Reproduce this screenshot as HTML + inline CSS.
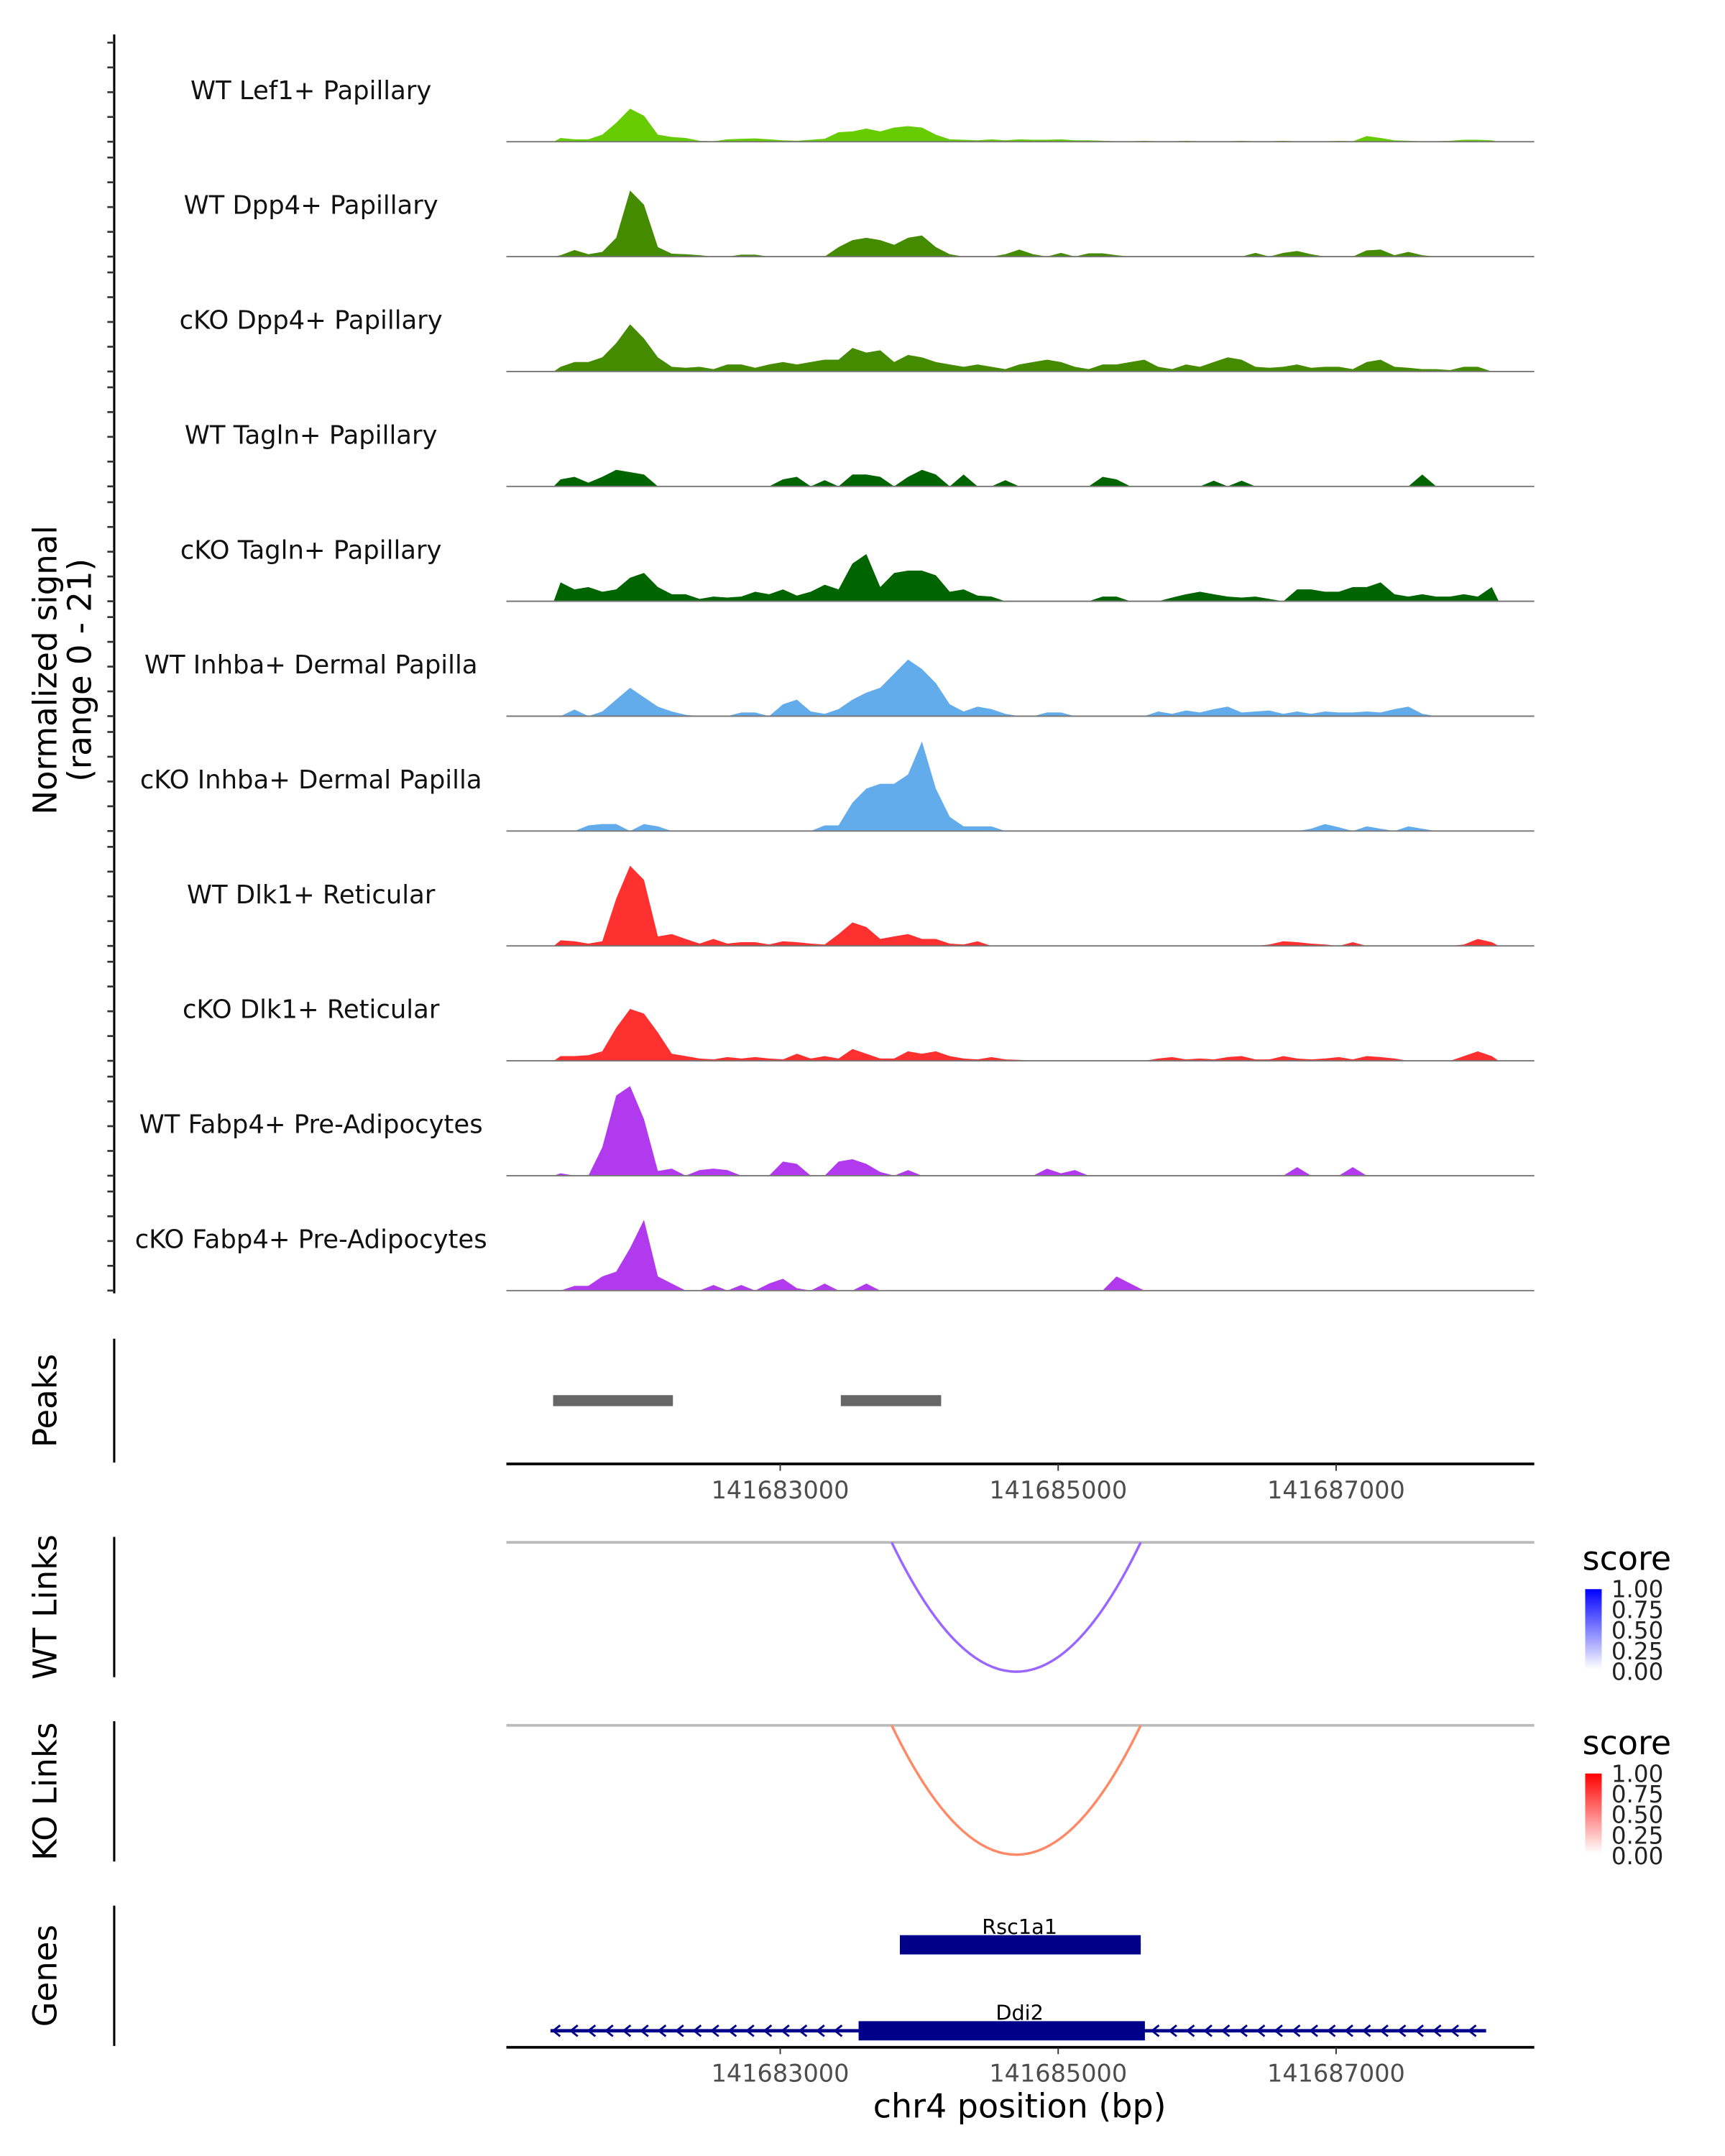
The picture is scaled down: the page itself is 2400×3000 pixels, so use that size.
<!DOCTYPE html>
<html><head><meta charset="utf-8"><style>
html,body{margin:0;padding:0;background:#fff}
svg{display:block}
text{font-family:"DejaVu Sans","Liberation Sans",sans-serif}
</style></head><body>
<svg id="chart" width="2400" height="3000" viewBox="0 0 1253.6 1567" xmlns="http://www.w3.org/2000/svg">
<rect width="1260" height="1570" fill="#fff"/>
<g id="tracks"></g>
<line x1="83" y1="25" x2="83" y2="940" stroke="#000" stroke-width="1.6"/>
<g id="yticks"></g>
<text transform="translate(41,487) rotate(-90)" text-anchor="middle" font-size="23.5">Normalized signal</text>
<text transform="translate(66,487) rotate(-90)" text-anchor="middle" font-size="23.5">(range 0 - 21)</text>

<line x1="83" y1="973" x2="83" y2="1063" stroke="#000" stroke-width="1.6"/>
<text transform="translate(41,1018) rotate(-90)" text-anchor="middle" font-size="23.5">Peaks</text>
<g id="peaks"></g>
<g id="xaxis1"></g>

<line x1="83" y1="1117" x2="83" y2="1219" stroke="#000" stroke-width="1.6"/>
<text transform="translate(41,1168) rotate(-90)" text-anchor="middle" font-size="23.5">WT Links</text>
<line x1="83" y1="1251" x2="83" y2="1353" stroke="#000" stroke-width="1.6"/>
<text transform="translate(41,1302) rotate(-90)" text-anchor="middle" font-size="23.5">KO Links</text>
<g id="links"></g>

<defs>
<linearGradient id="gb" x1="0" y1="1" x2="0" y2="0"><stop offset="0" stop-color="#fff"/><stop offset="1" stop-color="#0000ff"/></linearGradient>
<linearGradient id="gr" x1="0" y1="1" x2="0" y2="0"><stop offset="0" stop-color="#fff"/><stop offset="1" stop-color="#ff0000"/></linearGradient>
</defs>
<g>
<text x="1150" y="1141" font-size="24">score</text>
<rect x="1152" y="1155" width="12" height="58" fill="url(#gb)"/>
<g font-size="17" fill="#222"><text x="1171" y="1161">1.00</text><text x="1171" y="1176">0.75</text><text x="1171" y="1191">0.50</text><text x="1171" y="1206">0.25</text><text x="1171" y="1221">0.00</text></g>
</g>
<g>
<text x="1150" y="1275" font-size="24">score</text>
<rect x="1152" y="1289" width="12" height="58" fill="url(#gr)"/>
<g font-size="17" fill="#222"><text x="1171" y="1295">1.00</text><text x="1171" y="1310">0.75</text><text x="1171" y="1325">0.50</text><text x="1171" y="1340">0.25</text><text x="1171" y="1355">0.00</text></g>
</g>

<line x1="83" y1="1385" x2="83" y2="1487" stroke="#000" stroke-width="1.6"/>
<text transform="translate(41,1436) rotate(-90)" text-anchor="middle" font-size="23.5">Genes</text>
<g id="genes"></g>
<g id="xaxis2"></g>
<text x="741" y="1539" text-anchor="middle" font-size="24">chr4 position (bp)</text>
</svg>
<script>
const binStart = 141681370;
const binSize = 100;
const trackNames = ["WT Lef1+ Papillary","WT Dpp4+ Papillary","cKO Dpp4+ Papillary","WT Tagln+ Papillary","cKO Tagln+ Papillary","WT Inhba+ Dermal Papilla","cKO Inhba+ Dermal Papilla","WT Dlk1+ Reticular","cKO Dlk1+ Reticular","WT Fabp4+ Pre-Adipocytes","cKO Fabp4+ Pre-Adipocytes"];
const trackColors = ["#66cc00","#458b00","#458b00","#006400","#006400","#63acec","#63acec","#ff3030","#ff3030","#b23aee","#b23aee"];
const sLef1WT = [0.8,0.5,0.5,1.5,4,7,5.5,1.5,1,0.8,0.2,0.1,0.5,0.6,0.7,0.5,0.3,0.2,0.4,0.6,2,2.2,2.8,2.2,3,3.3,3,1.5,0.5,0.4,0.3,0.5,0.3,0.5,0.4,0.4,0.5,0.3,0.3,0.2,0.1,0.1,0.2,0.1,0.1,0.2,0.1,0.1,0.1,0.2,0.1,0.1,0.2,0.1,0.1,0.1,0.2,0.1,1.2,0.8,0.3,0.2,0.1,0.1,0.2,0.4,0.4,0.3];
const sDpp4WT = [0.3,1.4,0.5,1,4,14,11,2,0.6,0.5,0.3,0,0,0.4,0.4,0,0,0,0,0,2,3.5,4,3.5,2.5,4,4.5,2,0.5,0,0,0,0.5,1.5,0.5,0,0.8,0,0.7,0.7,0.3,0,0,0,0,0,0,0,0,0,0.8,0,0.8,1.2,0.5,0,0,0,1.3,1.5,0.3,1,0.3,0,0,0,0,0];
const sDpp4KO = [1,2,2,3,6,10,7,3,1,0.8,1,0.5,1.5,1.5,0.8,1.5,2,1.5,2,2.5,2.5,5,4,4.5,2,3.5,3,2,1.5,1,1.5,1,0.5,1.5,2,2.5,2,1,0.5,1.5,1.5,2,2.5,1,0.5,1.5,1,2,3,2.5,1,0.8,1,1.5,0.8,1,1,0.5,2,2.5,1,0.8,0.5,0.5,0.3,1,1,0];
const sTaglnWT = [1.5,2,0.8,2,3.5,3,2.5,0,0,0,0,0,0,0,0,0,1.5,2,0,1.3,0,2.5,2.5,2,0,2,3.5,2.5,0,2.5,0,0,1.3,0,0,0,0,0,0,2,1.5,0,0,0,0,0,0,1.2,0,1.2,0,0,0,0,0,0,0,0,0,0,0,0,2.5,0,0,0,0,0];
const sTaglnKO = [4,2.5,3,2,2.5,5,6,3,1.5,1.5,0.5,1,0.8,1,2,1.5,2.5,1.2,2,3.5,2.5,8,10,3,6,6.5,6.5,5.5,2,2.5,1.2,1,0,0,0,0,0,0,0,1,1,0,0,0,0.8,1.5,2,1.5,1,0.8,1,0.5,0,2.5,2.5,2,2,3,3,4,1.5,1,1.5,1,1,1.5,1,3];
const sInhbaWT = [0,1.4,0,1,3.5,6,4,2,1,0.3,0,0,0,0.8,0.8,0,2.5,3.5,1,0.5,1.5,3.5,5,6,9,12,10,7,2.5,1,2,1.5,0.5,0,0,0.8,0.8,0,0,0,0,0,0,1,0.5,1.2,0.8,1.5,2,0.8,1,1.2,0.5,1,0.5,1,0.8,0.8,1,0.8,1.5,2,0.5,0,0,0,0,0];
const sInhbaKO = [0,0,1.2,1.5,1.5,0,1.5,1,0,0,0,0,0,0,0,0,0,0,0,1.2,1.2,6,9,10,10,12,19,9,3,1,1,1,0,0,0,0,0,0,0,0,0,0,0,0,0,0,0,0,0,0,0,0,0,0,0.5,1.5,0.8,0,1,0.5,0,1,0.5,0,0,0,0,0];
const sDlk1WT = [1.2,1,0.5,1,10,17,14,2,2.5,1.5,0.5,1.5,0.5,0.8,0.8,0.3,1,0.8,0.5,0.3,2.5,5,4,1.5,2,2.5,1.5,1.5,0.5,0.3,1,0,0,0,0,0,0,0,0,0,0,0,0,0,0,0,0,0,0,0,0,0.3,1,0.8,0.5,0.3,0,0.8,0,0,0,0,0,0,0,0.3,1.5,0.8];
const sDlk1KO = [1,1,1.2,2,7,11,10,6,1.5,1,0.5,0.3,0.8,0.5,0.8,0.5,0.3,1.5,0.5,1,0.5,2.5,1.5,0.5,0.5,2,1.5,2,1,0.5,0.3,0.8,0.3,0.2,0,0,0,0,0,0,0,0,0,0.5,0.8,0.3,0.5,0.3,0.8,1,0.3,0.3,1,0.5,0.3,0.5,0.8,0.3,1,0.8,0.5,0,0,0,0,1,2,1];
const sFabp4WT = [0.5,0,0,6,17,19,12,1,1.5,0,1.2,1.5,1.2,0,0,0,3,2.5,0,0,3,3.5,2.5,0.8,0,1.2,0,0,0,0,0,0,0,0,0,1.5,0.5,1.2,0,0,0,0,0,0,0,0,0,0,0,0,0,0,0,1.8,0,0,0,1.8,0,0,0,0,0,0,0,0,0,0];
const sFabp4KO = [0,1,1,3,4,9,15,3,1.5,0,0,1.2,0,1.2,0,1.5,2.5,0.5,0,1.5,0,0,1.5,0,0,0,0,0,0,0,0,0,0,0,0,0,0,0,0,0,3,1.5,0,0,0,0,0,0,0,0,0,0,0,0,0,0,0,0,0,0,0,0,0,0,0,0,0];
const seriesList = [sLef1WT,sDpp4WT,sDpp4KO,sTaglnWT,sTaglnKO,sInhbaWT,sInhbaKO,sDlk1WT,sDlk1KO,sFabp4WT,sFabp4KO];
const peakStarts = [141681366,141683436];
const peakEnds = [141682228,141684158];
const xTicks = [141683000,141685000,141687000];
const linkStart = [141683802];
const linkEnd = [141685594];
const wtLinkScore = [0.55];
const koLinkScore = [0.5];
const geneNames = ["Rsc1a1","Ddi2"];
const geneStarts = [141683861,141681347];
const geneEnds = [141685594,141688079];
const exonStarts = [141683861,141683564];
const exonEnds = [141685594,141685624];

const NS='http://www.w3.org/2000/svg';
function X(p){return 567+(p-141683000)*202/2000;}
const yMax=21, trackH=72;
function mk(tag,attrs,parent){const e=document.createElementNS(NS,tag);for(const k in attrs)e.setAttribute(k,attrs[k]);parent.appendChild(e);return e;}
const tracks=document.getElementById('tracks');
const yt=document.getElementById('yticks');
seriesList.forEach((s,i)=>{
  const base=103+83.5*i;
  const g=mk('g',{},tracks);
  
  
  const lab=mk('text',{x:226,y:base-31,'text-anchor':'middle','font-size':'18.5',fill:'#111'},g);
  
  
  lab.textContent=trackNames[i];
  let pts=[[X(binStart),base]];
  s.forEach((v,k)=>{const x=X(binStart+binSize*(k+0.5));pts.push([x,base-v/yMax*trackH]);});
  pts.push([X(binStart+binSize*s.length),base]);
  const area=mk('polygon',{points:pts.map(p=>p[0].toFixed(1)+','+p[1].toFixed(1)).join(' '),fill:trackColors[i]},g);
  
  
  const bl=mk('line',{x1:368,x2:1115,y1:base,y2:base,stroke:'#777','stroke-width':1},g);
  
  
  for(let t=0;t<5;t++){const y=base-18*t;const tk=mk('line',{x1:78,x2:83,y1:y,y2:y,stroke:'#333','stroke-width':1.4},yt);
    
    }
});
const pk=document.getElementById('peaks');
peakStarts.forEach((p,i)=>{const r=mk('rect',{x:X(p),y:1014,width:X(peakEnds[i])-X(p),height:8,fill:'#666'},pk);
  
  });
function axis(id,y){const g=document.getElementById(id);
  mk('line',{x1:368,x2:1115,y1:y,y2:y,stroke:'#000','stroke-width':2},g);
  xTicks.forEach(t=>{mk('line',{x1:X(t),x2:X(t),y1:y,y2:y+5,stroke:'#333','stroke-width':1},g);
    const tx=mk('text',{x:X(t),y:y+25,'text-anchor':'middle','font-size':'17.5',fill:'#4d4d4d'},g);
    
    
    tx.textContent=t;});}
axis('xaxis1',1064);axis('xaxis2',1488);
const lk=document.getElementById('links');
function links(top,score,col){
  mk('line',{x1:368,x2:1115,y1:top,y2:top,stroke:'#bbb','stroke-width':2},lk);
  linkStart.forEach((s,i)=>{const x0=X(s),x1=X(linkEnd[i]);const depth=94;
    const p=mk('path',{d:`M${x0},${top} Q${(x0+x1)/2},${top+2*depth} ${x1},${top}`,fill:'none',stroke:col,'stroke-width':1.8},lk);
    
    });}
links(1121,wtLinkScore,'#9966ff');links(1254,koLinkScore,'#ff8866');
const gn=document.getElementById('genes');
geneNames.forEach((n,i)=>{const yc=i===0?1413.5:1476;
  const g=mk('g',{},gn);
  
  
  mk('line',{x1:X(geneStarts[i]),x2:X(geneEnds[i]),y1:yc,y2:yc,stroke:'#00008b','stroke-width':2.5},g);
  mk('rect',{x:X(exonStarts[i]),y:yc-7,width:X(exonEnds[i])-X(exonStarts[i]),height:14,fill:'#00008b'},g);
  for(let x=X(geneStarts[i])+2;x<X(geneEnds[i])-4;x+=12.8){
    if(x>X(exonStarts[i])-6&&x<X(exonEnds[i]))continue;
    mk('polyline',{points:`${x+5},${yc-4} ${x},${yc} ${x+5},${yc+4}`,fill:'none',stroke:'#00008b','stroke-width':1.5},g);}
  const t=mk('text',{x:741,y:yc-8,'text-anchor':'middle','font-size':'15'},g);
  t.textContent=n;});
</script>
</body></html>
